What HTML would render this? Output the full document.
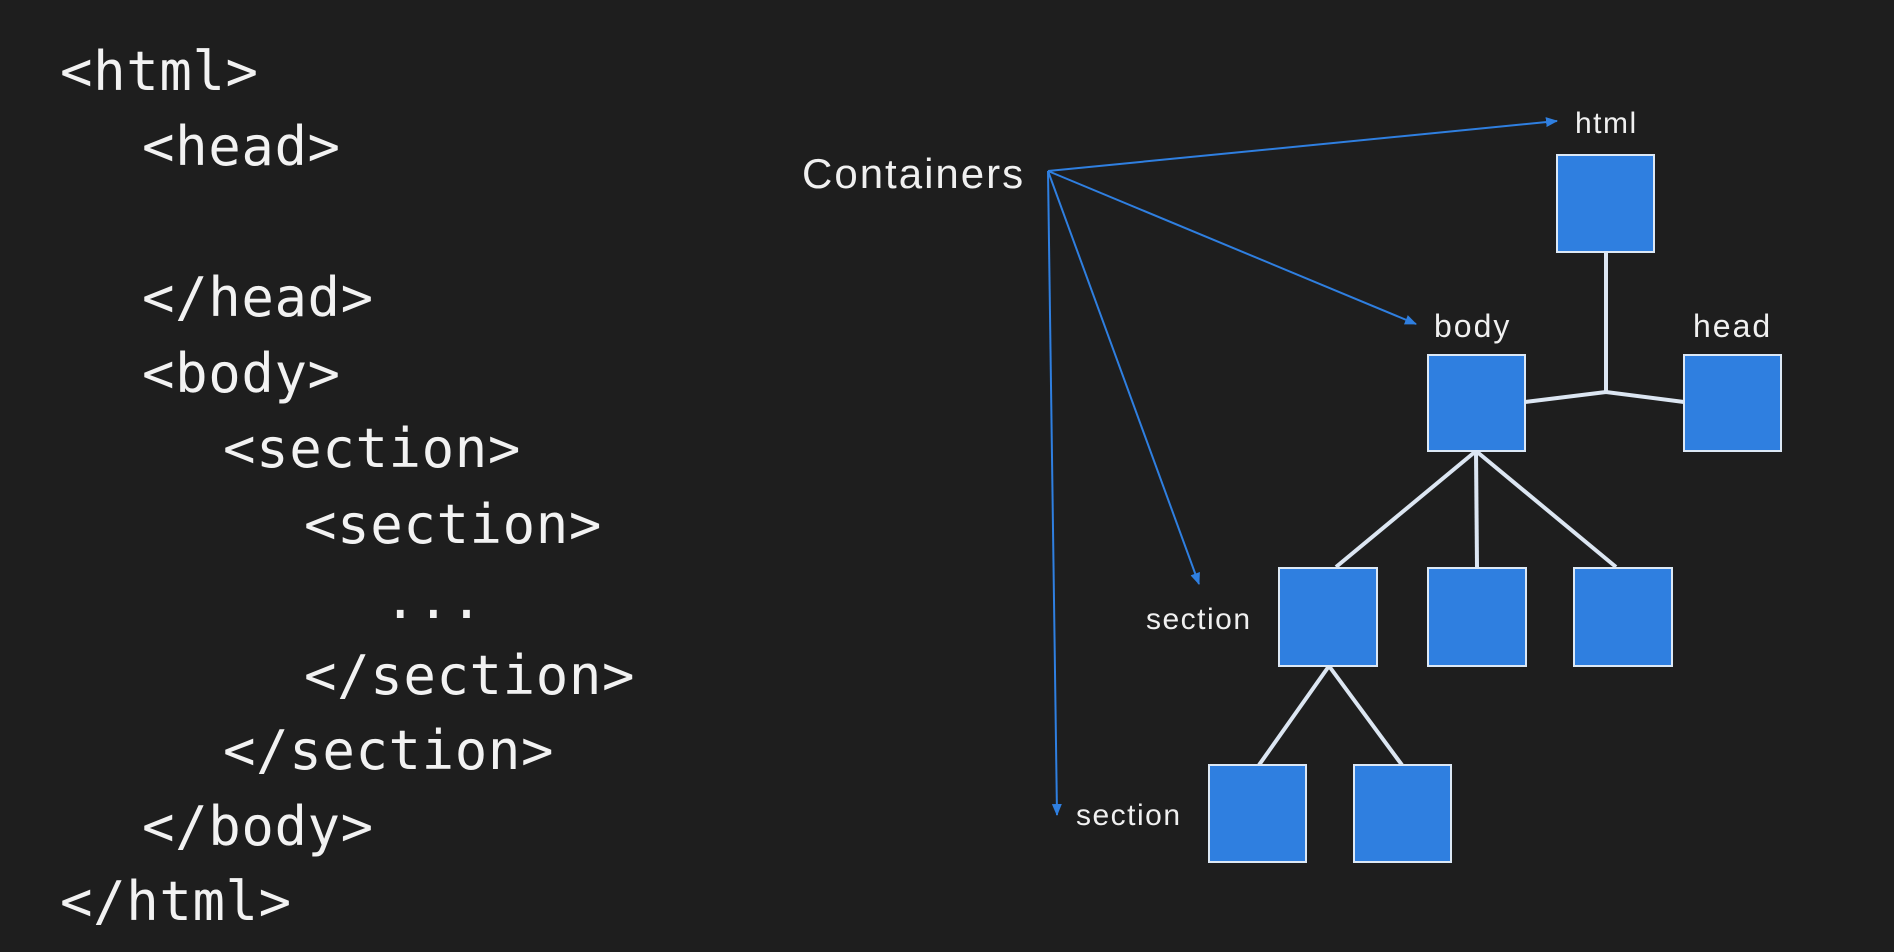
<!DOCTYPE html>
<html><head><meta charset="utf-8"><style>
html,body{margin:0;padding:0;background:#1e1e1e;width:1894px;height:952px;overflow:hidden}
.code{position:absolute;font-family:"DejaVu Sans Mono","Liberation Mono",monospace;font-size:54px;color:#f2f2f2;white-space:pre;line-height:1;letter-spacing:0.6px}
</style></head><body>
<div class="code" style="left:60px;top:45px">&lt;html&gt;</div>
<div class="code" style="left:142px;top:120px">&lt;head&gt;</div>
<div class="code" style="left:142px;top:271px">&lt;/head&gt;</div>
<div class="code" style="left:142px;top:347px">&lt;body&gt;</div>
<div class="code" style="left:223px;top:422px">&lt;section&gt;</div>
<div class="code" style="left:304px;top:498px">&lt;section&gt;</div>
<div class="code" style="left:384px;top:573px">...</div>
<div class="code" style="left:304px;top:649px">&lt;/section&gt;</div>
<div class="code" style="left:223px;top:724px">&lt;/section&gt;</div>
<div class="code" style="left:142px;top:800px">&lt;/body&gt;</div>
<div class="code" style="left:60px;top:875px">&lt;/html&gt;</div>
<svg width="1894" height="952" style="position:absolute;left:0;top:0">
<defs><marker id="a" markerWidth="12" markerHeight="10" refX="11" refY="5" orient="auto" markerUnits="userSpaceOnUse"><path d="M0,0 L12,5 L0,10 z" fill="#2f7fe0"/></marker></defs>
<g stroke="#dce6f2" stroke-width="4" fill="none">
<line x1="1606" y1="252" x2="1606" y2="392"/>
<polyline points="1525,402 1606,392 1684,402"/>
<line x1="1476" y1="451" x2="1336" y2="567"/>
<line x1="1476" y1="451" x2="1477" y2="567"/>
<line x1="1476" y1="451" x2="1616" y2="567"/>
<line x1="1329" y1="666" x2="1259" y2="765"/>
<line x1="1329" y1="666" x2="1402" y2="765"/>
</g>
<g fill="#2f7fe0" stroke="#dce8f5" stroke-width="2">
<rect x="1557" y="155" width="97" height="97"/>
<rect x="1428" y="355" width="97" height="96"/>
<rect x="1684" y="355" width="97" height="96"/>
<rect x="1279" y="568" width="98" height="98"/>
<rect x="1428" y="568" width="98" height="98"/>
<rect x="1574" y="568" width="98" height="98"/>
<rect x="1209" y="765" width="97" height="97"/>
<rect x="1354" y="765" width="97" height="97"/>
</g>
<g stroke="#2f7fe0" stroke-width="2" marker-end="url(#a)">
<line x1="1048" y1="171" x2="1557" y2="121"/>
<line x1="1048" y1="171" x2="1416" y2="324"/>
<line x1="1048" y1="171" x2="1199" y2="584"/>
<line x1="1048" y1="171" x2="1057" y2="815"/>
</g>
<g fill="#f0f0f0" font-family="Liberation Sans, sans-serif">
<text x="802" y="188" font-size="42" letter-spacing="2">Containers</text>
<text x="1575" y="133" font-size="30" letter-spacing="1.5">html</text>
<text x="1434" y="337" font-size="32" letter-spacing="2">body</text>
<text x="1693" y="337" font-size="32" letter-spacing="2">head</text>
<text x="1146" y="629" font-size="30" letter-spacing="1.5">section</text>
<text x="1076" y="825" font-size="30" letter-spacing="1.5">section</text>
</g>
</svg>
</body></html>
